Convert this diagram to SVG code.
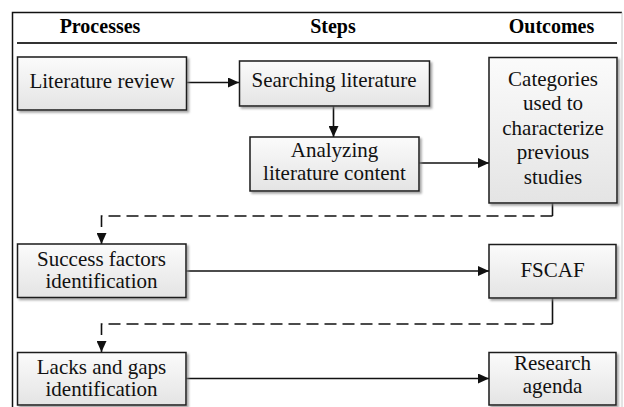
<svg xmlns="http://www.w3.org/2000/svg" width="624" height="407" viewBox="0 0 624 407">
  <style>
    .box { fill: url(#g); stroke: #1a1a1a; stroke-width: 1.5; filter: url(#sh); }
    .t { font-family: "Liberation Serif", "Times New Roman", serif; font-size: 21px; fill: #111; text-anchor: middle; }
    .h { font-family: "Liberation Serif", "Times New Roman", serif; font-size: 20px; font-weight: bold; fill: #000; text-anchor: middle; }
    .c { fill: none; stroke: #111; stroke-width: 1.6; }
    .a { marker-end: url(#ah); }
    .d { stroke-dasharray: 12 6; }
  </style>
  <defs>
    <linearGradient id="g" x1="0" y1="0" x2="0" y2="1">
      <stop offset="0" stop-color="#fbfbfb"/>
      <stop offset="1" stop-color="#e4e4e4"/>
    </linearGradient>
    <filter id="sh" x="-10%" y="-10%" width="125%" height="130%">
      <feDropShadow dx="2" dy="2" stdDeviation="1.2" flood-color="#808080" flood-opacity="0.7"/>
    </filter>
    <marker id="ah" markerUnits="userSpaceOnUse" markerWidth="11" markerHeight="10" refX="11" refY="5" orient="auto">
      <path d="M0,0 L11,5 L0,10 z" fill="#111"/>
    </marker>
  </defs>
  <rect width="624" height="407" fill="#fff"/>
  <g id="frame">
    <path d="M12.5,407 V12.5 H622" fill="none" stroke="#111" stroke-width="1.5"/>
    <path d="M622,12.5 V407" fill="none" stroke="#c8c8c8" stroke-width="1"/>
    <line x1="17" y1="43" x2="617" y2="43" stroke="#333" stroke-width="2"/>
  </g>
  <g id="headers">
    <text class="h" x="100" y="33">Processes</text>
    <text class="h" x="333" y="33">Steps</text>
    <text class="h" x="551.5" y="33">Outcomes</text>
  </g>
  <g id="connectors">
    <line class="c a" x1="187" y1="82.5" x2="239" y2="82.5"/>
    <line class="c a" x1="333.5" y1="106" x2="333.5" y2="137"/>
    <line class="c a" x1="419" y1="163" x2="489" y2="163"/>
    <polyline class="c" points="552.5,203 552.5,216"/>
    <polyline class="c d a" points="552.5,216 101.5,216 101.5,244"/>
    <line class="c a" x1="186" y1="271" x2="489" y2="271"/>
    <polyline class="c" points="552.5,298 552.5,324"/>
    <polyline class="c d a" points="552.5,324 101.5,324 101.5,352"/>
    <line class="c a" x1="186" y1="378.5" x2="489" y2="378.5"/>
  </g>
  <g id="literature-review">
    <rect class="box" x="17.5" y="57" width="169" height="53"/>
    <text class="t" x="102" y="88">Literature review</text>
  </g>
  <g id="searching-literature">
    <rect class="box" x="239.5" y="61" width="190" height="45"/>
    <text class="t" x="334" y="87">Searching literature</text>
  </g>
  <g id="analyzing-literature-content">
    <rect class="box" x="250" y="137" width="169" height="54"/>
    <text class="t" x="334.5" y="157">Analyzing</text>
    <text class="t" x="334.5" y="180">literature content</text>
  </g>
  <g id="categories">
    <rect class="box" x="489" y="57.5" width="128" height="145.5"/>
    <text class="t" x="553" y="86">Categories</text>
    <text class="t" x="553" y="110">used to</text>
    <text class="t" x="553" y="135">characterize</text>
    <text class="t" x="553" y="159">previous</text>
    <text class="t" x="553" y="184">studies</text>
  </g>
  <g id="success-factors">
    <rect class="box" x="17.5" y="244" width="168.5" height="53.5"/>
    <text class="t" x="101.5" y="266">Success factors</text>
    <text class="t" x="101.5" y="288">identification</text>
  </g>
  <g id="fscaf">
    <rect class="box" x="489" y="244.5" width="127" height="53.5"/>
    <text class="t" x="552.5" y="277">FSCAF</text>
  </g>
  <g id="lacks-gaps">
    <rect class="box" x="17.5" y="352.5" width="168.5" height="52.5"/>
    <text class="t" x="101.5" y="374">Lacks and gaps</text>
    <text class="t" x="101.5" y="396">identification</text>
  </g>
  <g id="research-agenda">
    <rect class="box" x="489" y="352.5" width="127" height="52.5"/>
    <text class="t" x="552.5" y="370">Research</text>
    <text class="t" x="552.5" y="393">agenda</text>
  </g>
</svg>
